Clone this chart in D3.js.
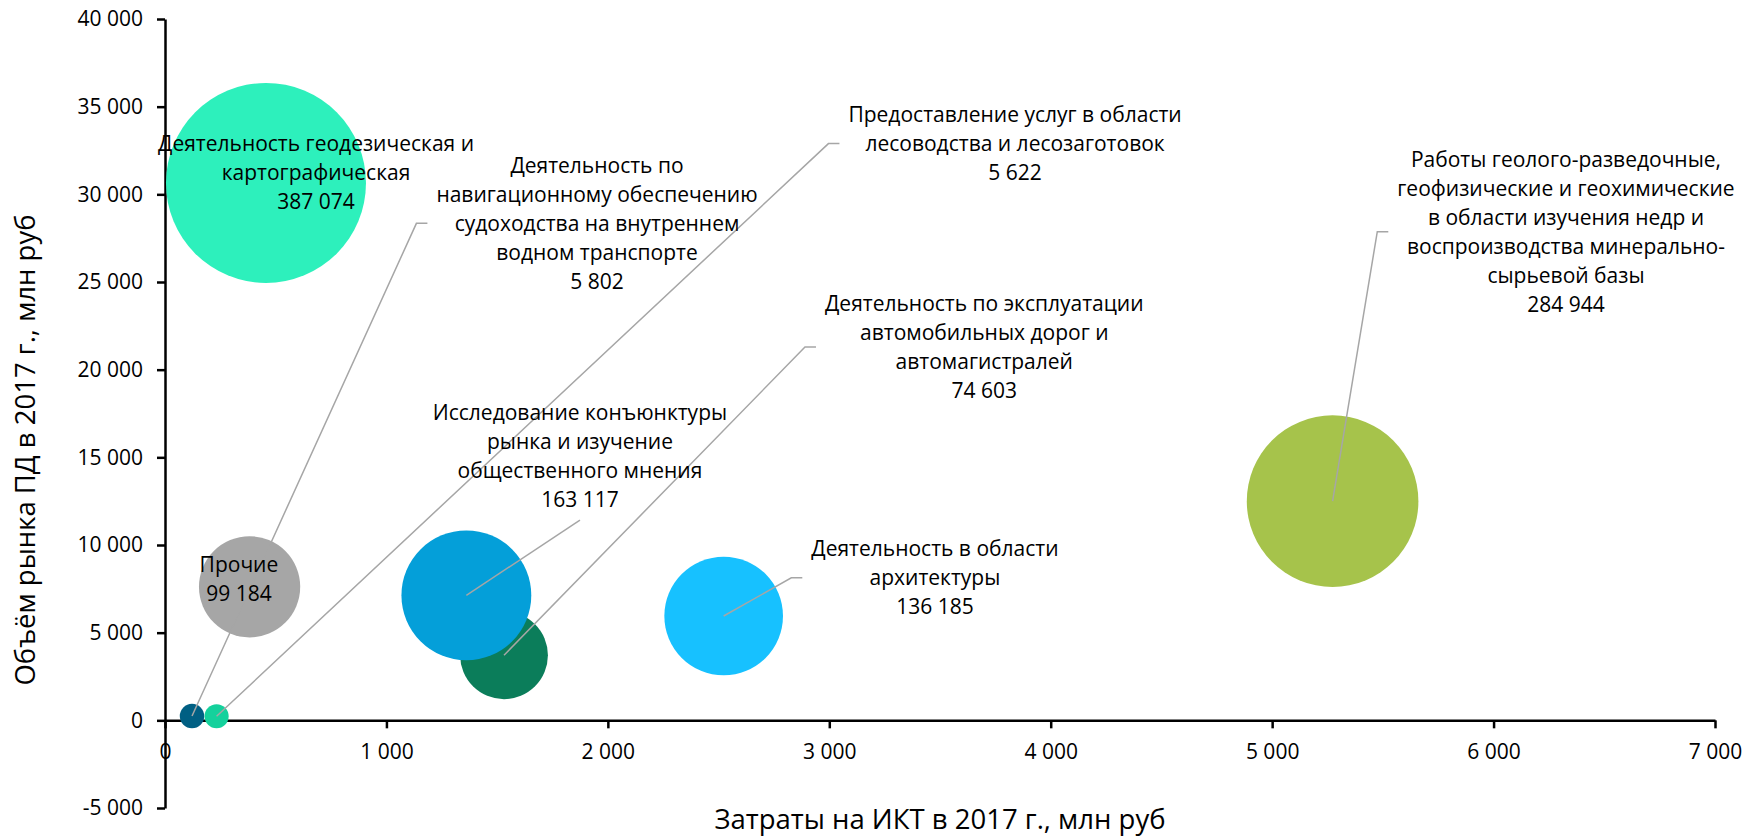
<!DOCTYPE html>
<html><head><meta charset="utf-8">
<script src="https://cdn.jsdelivr.net/npm/d3@7"></script>
<style>
body{margin:0;background:#fff;}
svg text{font-family:"Open Sans",sans-serif;fill:#000;}
</style></head>
<body><svg id="chart" width="1745" height="838"></svg>
<script>
// ---------- data ----------
const names = [
  "Деятельность геодезическая и картографическая",
  "Прочие",
  "Деятельность по навигационному обеспечению судоходства на внутреннем водном транспорте",
  "Предоставление услуг в области лесоводства и лесозаготовок",
  "Деятельность по эксплуатации автомобильных дорог и автомагистралей",
  "Исследование конъюнктуры рынка и изучение общественного мнения",
  "Деятельность в области архитектуры",
  "Работы геолого-разведочные, геофизические и геохимические в области изучения недр и воспроизводства минерально-сырьевой базы"
];
const ictCosts   = [456, 382, 122, 233, 1531, 1361, 2523, 5273];      // x, млн руб
const marketSize = [30650, 7615, 245, 230, 3710, 7130, 5950, 12500];  // y, млн руб
const bubbleSize = [387074, 99184, 5802, 5622, 74603, 163117, 136185, 284944];
const labelLines = [
  ["Деятельность геодезическая и", "картографическая"],
  ["Прочие"],
  ["Деятельность по", "навигационному обеспечению", "судоходства на внутреннем", "водном транспорте"],
  ["Предоставление услуг в области", "лесоводства и лесозаготовок"],
  ["Деятельность по эксплуатации", "автомобильных дорог и", "автомагистралей"],
  ["Исследование конъюнктуры", "рынка и изучение", "общественного мнения"],
  ["Деятельность в области", "архитектуры"],
  ["Работы геолого-разведочные,", "геофизические и геохимические", "в области изучения недр и", "воспроизводства минерально-", "сырьевой базы"]
];
// label anchors in data units (centre of the label block)
const labelAnchorX = [682, 334, 1951, 3839, 3700, 1874, 3477, 6327];
const labelAnchorY = [31227, 8042, 28346, 32894, 21292, 15057, 8128, 27867];
const leaderKind   = ["none", "none", "elbow", "elbow", "elbow", "bottom", "elbow", "elbow"];
const xTicks = [0, 1000, 2000, 3000, 4000, 5000, 6000, 7000];
const yTicks = [-5000, 0, 5000, 10000, 15000, 20000, 25000, 30000, 35000, 40000];
const xTitle = "Затраты на ИКТ в 2017 г., млн руб";
const yTitle = "Объём рынка ПД в 2017 г., млн руб";

// ---------- styles ----------
const colors = ["#2DF0BC", "#A6A6A6", "#005F83", "#14D19C", "#0B7D5A", "#049FD9", "#17C1FF", "#A6C34B"];
const leaderColor = "#A6A6A6";
const tickFont = 21, labelFont = 21, titleFont = 27.5, lineH = 29;

const ru = d3.formatLocale({decimal: ",", thousands: "\u00a0", grouping: [3], currency: ["", ""], minus: "-"});
const fmt = ru.format(",d");

const svg = d3.select("#chart");
const x = d3.scaleLinear().domain([0, 7000]).range([165, 1715]);
const y = d3.scaleLinear().domain([-5000, 40000]).range([808, 19]);
const r = d3.scaleSqrt().domain([0, d3.max(bubbleSize)]).range([0, 100]);

const data = names.map((n, i) => ({
  name: n, x: ictCosts[i], y: marketSize[i], s: bubbleSize[i], c: colors[i],
  lines: labelLines[i].concat([fmt(bubbleSize[i])]),
  lx: labelAnchorX[i], ly: labelAnchorY[i], kind: leaderKind[i]
}));

// axes
const yAxis = svg.append("g").attr("transform", `translate(${x(0)},0)`)
  .call(d3.axisLeft(y).tickValues(yTicks).tickFormat(fmt).tickSize(8).tickSizeOuter(0).tickPadding(14));
const xAxis = svg.append("g").attr("transform", `translate(0,${y(0)})`)
  .call(d3.axisBottom(x).tickValues(xTicks).tickFormat(fmt).tickSize(8).tickSizeOuter(0).tickPadding(16));
[yAxis, xAxis].forEach(g => {
  g.selectAll("path,line").attr("stroke", "#000").attr("stroke-width", 2.5);
  g.selectAll("text").attr("font-size", tickFont).attr("font-family", "Open Sans").attr("fill", "#000");
});

// bubbles
const bubbles = svg.append("g");
bubbles.selectAll("circle").data(data).join("circle")
  .attr("cx", d => x(d.x)).attr("cy", d => y(d.y)).attr("r", d => r(d.s))
  .attr("fill", d => d.c);

// labels
const leaders = svg.append("g");
const labels = svg.append("g");
data.forEach(d => {
  const cx = x(d.lx), cy = y(d.ly);
  const n = d.lines.length;
  const t = labels.append("text").attr("text-anchor", "middle").attr("font-size", labelFont);
  d.lines.forEach((ln, k) => {
    t.append("tspan").attr("x", cx).attr("y", cy + (k - (n - 1) / 2) * lineH).attr("dy", "0.35em").text(ln);
  });
  const bb = t.node().getBBox();
  const bx = x(d.x), by = y(d.y);
  if (d.kind === "elbow") {
    const ex = bb.x - 9, sx = ex - 11;
    leaders.append("path").attr("d", `M${bx},${by}L${sx},${cy}L${ex},${cy}`)
      .attr("fill", "none").attr("stroke", leaderColor).attr("stroke-width", 1.5);
  } else if (d.kind === "bottom") {
    leaders.append("path").attr("d", `M${bx},${by}L${cx},${bb.y + bb.height + 7}`)
      .attr("fill", "none").attr("stroke", leaderColor).attr("stroke-width", 1.5);
  }
});

// titles
svg.append("text").attr("x", x(3500)).attr("y", 829).attr("text-anchor", "middle")
  .attr("font-size", titleFont).text(xTitle);
svg.append("text").attr("transform", "translate(35,450) rotate(-90)").attr("text-anchor", "middle")
  .attr("font-size", titleFont).text(yTitle);
</script>
</body></html>
